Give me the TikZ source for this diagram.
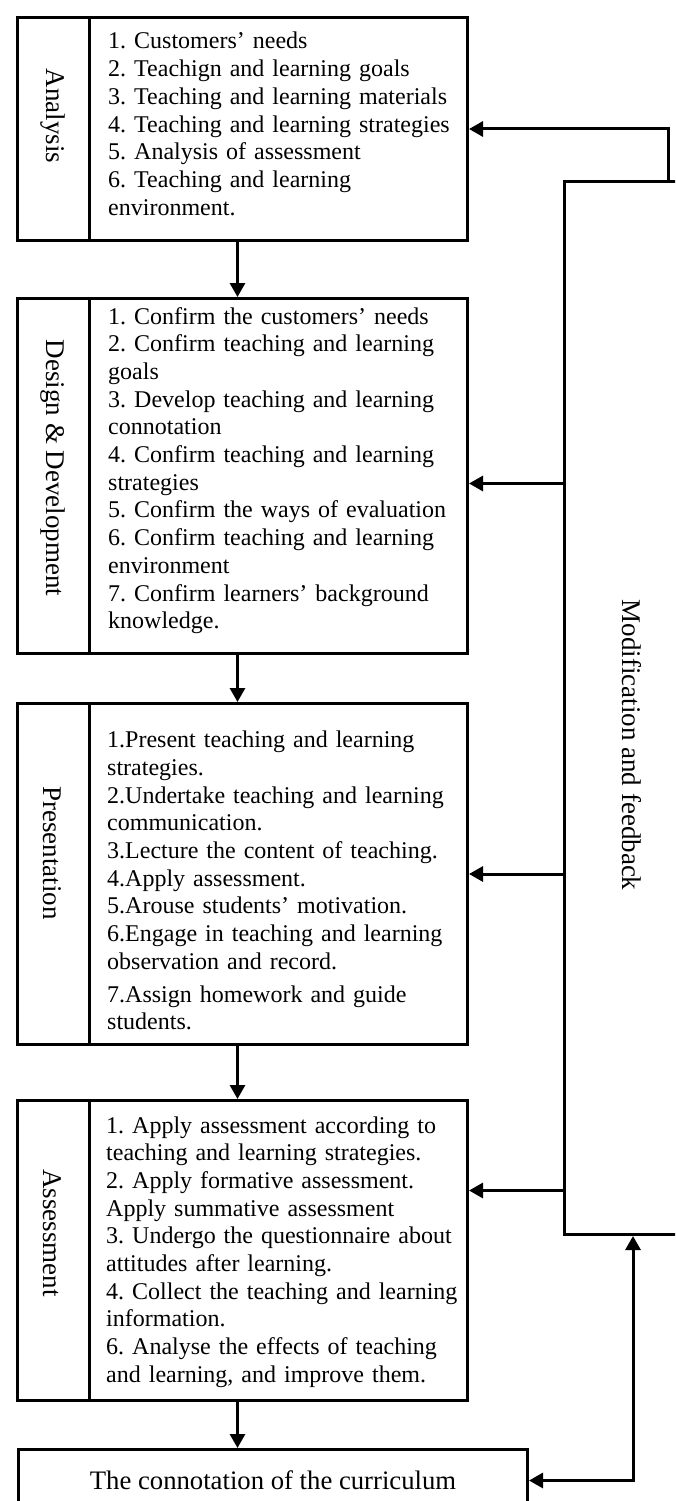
\documentclass[tikz,border=0pt]{standalone}
\usepackage{fontspec}
\setmainfont{Liberation Serif}
\usetikzlibrary{arrows.meta,calc}

\newcommand{\hangitem}{\par\hangindent=18pt\hangafter=1\noindent}

\tikzset{
  stagebox/.style={draw, line width=3pt, minimum width=450pt, anchor=north west, inner sep=0pt},
  stagelabel/.style={rotate=-90, inner sep=0pt, font=\fontsize{27}{30}\selectfont},
  itemtext/.style={anchor=base west, text width=370pt, align=left, inner sep=0pt, font=\fontsize{24}{27.7}\selectfont\frenchspacing},
  flow/.style={line width=3pt, -{Triangle[length=14pt,width=15pt]}},
  flowboth/.style={line width=3pt, {Triangle[length=14pt,width=15pt]}-{Triangle[length=14pt,width=15pt]}}
}

\begin{document}
\begin{tikzpicture}[x=1pt,y=-1pt]
\useasboundingbox (0,0) rectangle (675,1501);
\clip (0,0) rectangle (675,1501);
\fill[white] (0,0) rectangle (675,1501);

% stage boxes
\node[stagebox, minimum height=223pt] (analysis) at (16,16) {};
\node[stagebox, minimum height=355pt] (design) at (16,297) {};
\node[stagebox, minimum height=341pt] (present) at (16,702) {};
\node[stagebox, minimum height=300pt] (assess) at (16,1099) {};
\node[draw, line width=3pt, minimum width=509pt, minimum height=62pt, anchor=north west, font=\fontsize{26.7}{30}\selectfont] (curric) at (17,1448) {The connotation of the curriculum};
\node[draw, line width=3pt, minimum width=140pt, minimum height=1053pt, anchor=north west] (feedback) at (563,180) {};

% label columns
\foreach \s in {analysis,design,present,assess}
  \draw[line width=3pt] ([xshift=73pt]\s.north west) -- ([xshift=73pt]\s.south west);

\node[stagelabel] (analysisLbl) at (52.5,116) {Analysis};
\node[stagelabel] (designLbl) at (52.5,468) {Design \& Development};
\node[stagelabel] (presentLbl) at (52.5,853) {Presentation};
\node[stagelabel] (assessLbl) at (52.5,1233) {Assessment};
\node[stagelabel] (feedbackLbl) at (632,745) {Modification and feedback};

% stage contents
\node[itemtext] (analysisItems) at (108,49) {1. Customers’ needs\\
2. Teachign and learning goals\\
3. Teaching and learning materials\\
4. Teaching and learning strategies\\
5. Analysis of assessment\\
6. Teaching and learning\\
environment.};

\node[itemtext] (designItems) at (108,324) {1. Confirm the customers’ needs\\
2. Confirm teaching and learning\\
goals\\
3. Develop teaching and learning\\
connotation\\
4. Confirm teaching and learning\\
strategies\\
5. Confirm the ways of evaluation\\
6. Confirm teaching and learning\\
environment\\
7. Confirm learners’ background\\
knowledge.};

% hanging items: the node's base sits one ascent above the first baseline
\node[itemtext] (presentItems) at (107,720) {\hangitem 1.Present teaching and learning\\strategies.
\hangitem 2.Undertake teaching and learning\\communication.
\hangitem 3.Lecture the content of teaching.
\hangitem 4.Apply assessment.
\hangitem 5.Arouse students’ motivation.
\hangitem 6.Engage in teaching and learning\\observation and record.
\par\vskip5pt
\hangitem 7.Assign homework and guide\\students.};

\node[itemtext] (assessItems) at (106,1133) {1. Apply assessment according to\\
teaching and learning strategies.\\
2. Apply formative assessment.\\
Apply summative assessment\\
3. Undergo the questionnaire about\\
attitudes after learning.\\
4. Collect the teaching and learning\\
information.\\
6. Analyse the effects of teaching\\
and learning, and improve them.};

% main flow
\draw[flow] ([xshift=-5pt]analysis.south) -- ([xshift=-5pt]design.north);
\draw[flow] ([xshift=-5pt]design.south) -- ([xshift=-5pt]present.north);
\draw[flow] ([xshift=-5pt]present.south) -- ([xshift=-5pt]assess.north);
\draw[flow] ([xshift=-5pt]assess.south) -- ([xshift=-5pt]assess.south |- curric.north);

% feedback
\coordinate (designIn) at ([yshift=-7.5pt]design.east);
\coordinate (assessIn) at ([yshift=60pt]assess.east);
\draw[flow] ([xshift=105pt]feedback.north west) |- (analysis.east);
\draw[flow] (feedback.west |- designIn) -- (designIn);
\draw[flow] (feedback.west |- present.east) -- (present.east);
\draw[flow] (feedback.west |- assessIn) -- (assessIn);
\draw[flowboth] (curric.east) -| ([xshift=70pt]feedback.south west);
\end{tikzpicture}
\end{document}
